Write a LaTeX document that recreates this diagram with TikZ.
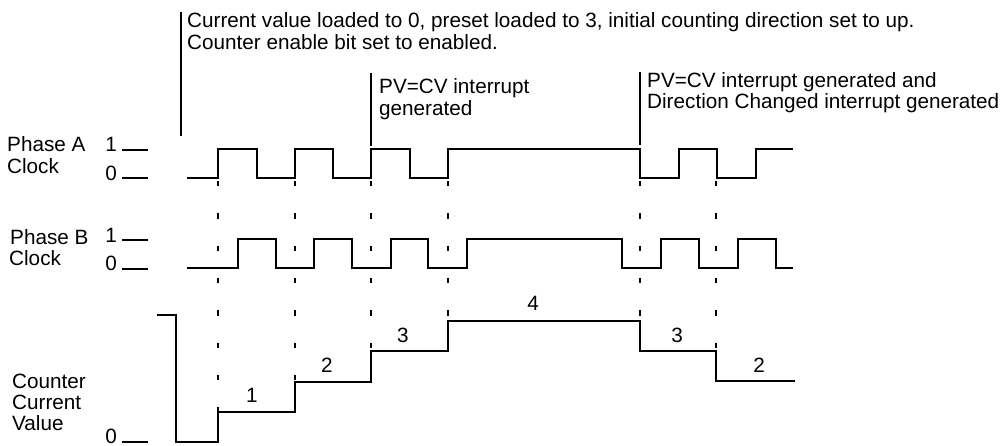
\documentclass[tikz,border=0pt]{standalone}
\usepackage{fontspec}
\setmainfont{Liberation Sans}
\begin{document}
\begin{tikzpicture}[x=1pt,y=-1pt,
  txt/.style={anchor=base west, inner sep=0pt, font=\fontsize{20.7}{22}\selectfont},
  lvl/.style={anchor=base east, inner sep=0pt, font=\fontsize{20.7}{22}\selectfont},
  val/.style={anchor=base, inner sep=0pt, font=\fontsize{20.7}{22}\selectfont},
  wave/.style={line width=1.2pt, line join=miter},
  annline/.style={line width=2pt},
  guide/.style={line width=1.4pt, dash pattern=on 5.5pt off 26.8pt},
  tickline/.style={line width=1.2pt}
]
\useasboundingbox (0,0) rectangle (1004,446);

% ---------- annotations ----------
\coordinate (a1t) at (181,12);  \coordinate (a1b) at (181,136);
\coordinate (a2t) at (371,73);  \coordinate (a2b) at (371,146);
\coordinate (a3t) at (640,72);  \coordinate (a3b) at (640,145);
\draw[annline] (a1t) -- (a1b);
\draw[annline] (a2t) -- (a2b);
\draw[annline] (a3t) -- (a3b);

\node[txt] (t1a) at (187,28) {Current value loaded to 0, preset loaded to 3, initial counting direction set to up.};
\node[txt] (t1b) at (187,50) {Counter enable bit set to enabled.};
\node[txt] (t2a) at (379,94) {PV=CV interrupt};
\node[txt] (t2b) at (379,116) {generated};
\node[txt] (t3a) at (647,88) {PV=CV interrupt generated and};
\node[txt] (t3b) at (647,109) {Direction Changed interrupt generated};

% ---------- left labels ----------
\node[txt] (pa1) at (7,152) {Phase A};
\node[txt] (pa2) at (7,174) {Clock};
\node[txt] (pb1) at (10,245) {Phase B};
\node[txt] (pb2) at (9,266) {Clock};
\node[txt] (cv1) at (12,388) {Counter};
\node[txt] (cv2) at (12,409) {Current};
\node[txt] (cv3) at (12,430) {Value};

\node[lvl] (pa1v) at (117,152) {1};
\node[lvl] (pa0v) at (117,181) {0};
\node[lvl] (pb1v) at (117,243) {1};
\node[lvl] (pb0v) at (117,271) {0};
\node[lvl] (cv0v) at (117,443.5) {0};
\draw[tickline] (122,150) -- (148,150);
\draw[tickline] (122,178) -- (148,178);
\draw[tickline] (122,240) -- (148,240);
\draw[tickline] (122,269) -- (148,269);
\draw[tickline] (122,442) -- (148,442);

% ---------- guides ----------
\draw[guide] (218,181) -- (218,412);
\draw[guide] (295,181) -- (295,382);
\draw[guide] (371,181) -- (371,351);
\draw[guide] (448,181) -- (448,321);
\draw[guide] (640,181) -- (640,321);
\draw[guide] (716,181) -- (716,351);

% ---------- Phase A ----------
\draw[wave] (187,178) -- (218,178) -- (218,149) -- (257,149) -- (257,178)
  -- (295,178) -- (295,149) -- (333,149) -- (333,178) -- (371,178)
  -- (371,149) -- (410,149) -- (410,178) -- (448,178) -- (448,149)
  -- (640,149) -- (640,178) -- (679,178) -- (679,149) -- (717,149)
  -- (717,178) -- (756,178) -- (756,149) -- (793,149);

% ---------- Phase B ----------
\draw[wave] (187,268) -- (238,268) -- (238,239) -- (276,239) -- (276,268)
  -- (314,268) -- (314,239) -- (352,239) -- (352,268) -- (391,268)
  -- (391,239) -- (428,239) -- (428,268) -- (467,268) -- (467,239)
  -- (622,239) -- (622,268) -- (661,268) -- (661,239) -- (699,239)
  -- (699,268) -- (738,268) -- (738,239) -- (776,239) -- (776,268)
  -- (793,268);

% ---------- Counter ----------
\draw[wave] (157,315) -- (176,315) -- (176,442) -- (218,442) -- (218,412)
  -- (295,412) -- (295,382) -- (371,382) -- (371,351) -- (448,351)
  -- (448,321) -- (640,321) -- (640,351) -- (716,351) -- (716,381)
  -- (795,381);

\node[val] (c1) at (252,402) {1};
\node[val] (c2) at (327,372) {2};
\node[val] (c3) at (403,342) {3};
\node[val] (c4) at (533,311) {4};
\node[val] (c3b) at (677,342) {3};
\node[val] (c2b) at (759,372) {2};
\end{tikzpicture}
\end{document}
